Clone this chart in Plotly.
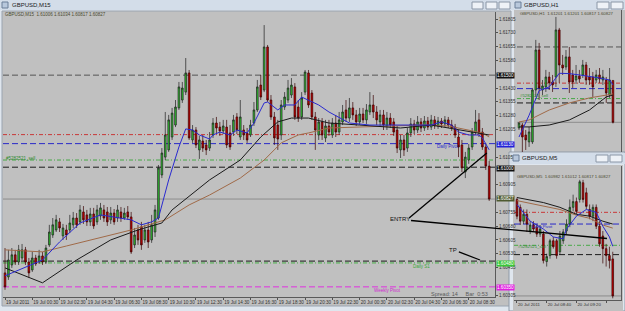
import plotly.graph_objects as go

W, H = 625, 311
def PX(x): return x / W
def PY(y): return 1 - y / H

# ---------------- GBPUSD M15 (main window) ----------------
m15_open = [1.60426,1.60404,1.60469,1.60524,1.60485,1.60507,1.60551,1.60485,1.60442,1.60507,
 1.60485,1.60518,1.60485,1.60578,1.60632,1.60659,1.60703,1.60627,1.60659,1.60659,
 1.60687,1.60724,1.60703,1.60757,1.60741,1.60703,1.60746,1.60703,1.60735,1.60768,
 1.60757,1.60714,1.60751,1.60724,1.60757,1.60724,1.60757,1.60730,1.60578,1.60659,
 1.60676,1.60605,1.60659,1.60605,1.60648,1.60724,1.60958,1.61055,1.61094,1.61164,
 1.61229,1.61322,1.61365,1.61408,1.61512,1.61148,1.61202,1.61094,1.61142,1.61121,
 1.61104,1.61175,1.61240,1.61218,1.61197,1.61218,1.61186,1.61191,1.61273,1.61164,
 1.61202,1.61186,1.61175,1.61240,1.61311,1.61446,1.61419,1.61653,1.61365,1.61273,
 1.61229,1.61175,1.61327,1.61365,1.61392,1.61436,1.61327,1.61273,1.61408,1.61512,
 1.61403,1.61273,1.61175,1.61246,1.61159,1.61224,1.61175,1.61240,1.61191,1.61246,
 1.61311,1.61267,1.61322,1.61284,1.61246,1.61289,1.61257,1.61300,1.61338,1.61300,
 1.61246,1.61284,1.61224,1.61267,1.61246,1.61202,1.61094,1.61148,1.61104,1.61186,
 1.61235,1.61202,1.61246,1.61213,1.61251,1.61218,1.61257,1.61224,1.61251,1.61235,
 1.61257,1.61229,1.61218,1.61164,1.61121,1.60974,1.61039,1.61110,1.61191,1.61257,
 1.61191,1.61110,1.61006]
m15_high = [1.60561,1.60551,1.60561,1.60551,1.60578,1.60583,1.60567,1.60507,1.60540,1.60524,
 1.60551,1.60540,1.60578,1.60687,1.60724,1.60741,1.60724,1.60692,1.60687,1.60741,
 1.60757,1.60751,1.60795,1.60789,1.60768,1.60779,1.60779,1.60795,1.60806,1.60795,
 1.60784,1.60784,1.60773,1.60795,1.60784,1.60779,1.60789,1.60757,1.60670,1.60687,
 1.60703,1.60687,1.60703,1.60741,1.60795,1.61012,1.61104,1.61300,1.61284,1.61322,
 1.61365,1.61463,1.61463,1.61593,1.61528,1.61229,1.61218,1.61170,1.61175,1.61148,
 1.61191,1.61267,1.61273,1.61246,1.61257,1.61257,1.61229,1.61284,1.61294,1.61365,
 1.61229,1.61213,1.61257,1.61354,1.61474,1.61501,1.61772,1.61664,1.61392,1.61300,
 1.61257,1.61365,1.61408,1.61474,1.61484,1.61457,1.61365,1.61408,1.61528,1.61528,
 1.61419,1.61300,1.61267,1.61267,1.61257,1.61257,1.61267,1.61284,1.61300,1.61338,
 1.61365,1.61376,1.61354,1.61311,1.61322,1.61322,1.61343,1.61408,1.61392,1.61332,
 1.61311,1.61311,1.61300,1.61294,1.61267,1.61224,1.61175,1.61175,1.61213,1.61267,
 1.61257,1.61278,1.61267,1.61278,1.61273,1.61284,1.61278,1.61273,1.61267,1.61278,
 1.61273,1.61257,1.61235,1.61202,1.61148,1.61083,1.61126,1.61213,1.61311,1.61294,
 1.61213,1.61132,1.61034]
m15_low = [1.60334,1.60388,1.60453,1.60469,1.60469,1.60496,1.60469,1.60399,1.60431,1.60464,
 1.60475,1.60469,1.60475,1.60567,1.60616,1.60648,1.60648,1.60605,1.60605,1.60643,
 1.60670,1.60670,1.60687,1.60692,1.60681,1.60681,1.60665,1.60687,1.60714,1.60703,
 1.60681,1.60692,1.60687,1.60703,1.60703,1.60714,1.60714,1.60529,1.60561,1.60578,
 1.60551,1.60589,1.60561,1.60589,1.60621,1.60714,1.60941,1.61039,1.61083,1.61148,
 1.61218,1.61311,1.61349,1.61392,1.61148,1.61132,1.61104,1.61045,1.61083,1.61066,
 1.61088,1.61159,1.61186,1.61170,1.61180,1.61104,1.61094,1.61170,1.61180,1.61148,
 1.61148,1.61132,1.61164,1.61224,1.61300,1.61365,1.61408,1.61354,1.61257,1.61121,
 1.61094,1.61148,1.61311,1.61349,1.61376,1.61257,1.61246,1.61257,1.61392,1.61322,
 1.61257,1.61094,1.61148,1.61148,1.61137,1.61170,1.61159,1.61164,1.61175,1.61229,
 1.61246,1.61246,1.61257,1.61224,1.61229,1.61240,1.61235,1.61284,1.61267,1.61229,
 1.61224,1.61202,1.61202,1.61213,1.61170,1.61077,1.61050,1.61061,1.61083,1.61164,
 1.61180,1.61186,1.61191,1.61197,1.61202,1.61202,1.61208,1.61208,1.61213,1.61218,
 1.61213,1.61197,1.61159,1.61055,1.60974,1.60941,1.61018,1.61094,1.61175,1.61164,
 1.61094,1.60985,1.60817]
m15_close = [1.60350,1.60496,1.60524,1.60485,1.60551,1.60551,1.60485,1.60426,1.60507,1.60475,
 1.60518,1.60485,1.60561,1.60648,1.60687,1.60714,1.60670,1.60670,1.60632,1.60697,
 1.60724,1.60687,1.60768,1.60714,1.60703,1.60746,1.60681,1.60768,1.60779,1.60724,
 1.60703,1.60751,1.60703,1.60768,1.60724,1.60751,1.60730,1.60540,1.60632,1.60605,
 1.60578,1.60659,1.60594,1.60687,1.60768,1.60996,1.61077,1.61175,1.61257,1.61294,
 1.61327,1.61436,1.61430,1.61512,1.61159,1.61202,1.61121,1.61148,1.61104,1.61094,
 1.61148,1.61240,1.61213,1.61197,1.61224,1.61121,1.61110,1.61257,1.61202,1.61273,
 1.61175,1.61148,1.61229,1.61311,1.61436,1.61381,1.61653,1.61365,1.61273,1.61159,
 1.61153,1.61338,1.61381,1.61430,1.61446,1.61273,1.61267,1.61376,1.61517,1.61338,
 1.61273,1.61202,1.61246,1.61175,1.61224,1.61191,1.61240,1.61191,1.61257,1.61300,
 1.61267,1.61322,1.61284,1.61246,1.61289,1.61257,1.61311,1.61338,1.61300,1.61257,
 1.61284,1.61229,1.61267,1.61229,1.61191,1.61104,1.61148,1.61094,1.61186,1.61235,
 1.61202,1.61246,1.61213,1.61251,1.61218,1.61257,1.61224,1.61251,1.61235,1.61257,
 1.61229,1.61213,1.61175,1.61110,1.60996,1.61055,1.61104,1.61191,1.61246,1.61186,
 1.61110,1.61006,1.60827]
m15_bar = list(range(len(m15_open)))

# moving averages (bar index, price)
m15_fast_bar = [0,11,16,22,28,37,40,43,45,48,51,53,55,57,60,61,63,66,68,71,73,76,77,80,82,85,87,89,92,95,101,107,116,125,128,131,133,136,139,140,142]
m15_fast = [1.60410,1.60496,1.60594,1.60697,1.60741,1.60714,1.60687,1.60703,1.60724,1.60931,1.61110,1.61208,1.61202,1.61175,1.61153,1.61175,1.61191,1.61175,1.61202,1.61186,1.61240,1.61349,1.61354,1.61311,1.61338,1.61338,1.61381,1.61365,1.61338,1.61300,1.61240,1.61229,1.61229,1.61229,1.61246,1.61229,1.61191,1.61175,1.61175,1.61159,1.61094]
m15_slow_bar = [0,11,18,28,37,47,54,60,69,76,81,86,89,95,110,122,130,136,140,142]
m15_slow = [1.60551,1.60540,1.60572,1.60616,1.60659,1.60714,1.60795,1.60849,1.60941,1.61039,1.61132,1.61175,1.61186,1.61213,1.61224,1.61229,1.61224,1.61202,1.61186,1.61164]
m15_mid_bar = [0,11,21,31,39,46,49,60,69,75,80,84,89,95,104,116,125,133,142]
m15_mid = [1.60453,1.60372,1.60496,1.60605,1.60659,1.60697,1.60768,1.60931,1.61039,1.61164,1.61246,1.61267,1.61267,1.61240,1.61229,1.61213,1.61229,1.61202,1.61175]

# price-scale labels that are visible (the others sit under the coloured level boxes)
main_price_ticks = [1.60305,1.60455,1.60530,1.60605,1.60680,1.60755,1.60905,
 1.61055,1.61205,1.61280,1.61355,1.61430,1.61580,1.61655,1.61730,1.61805]
main_time_bars = [0,8,16,24,32,40,48,56,64,72,80,88,96,104,112,120,128,136]
main_time_labels = ["19 Jul 2011","19 Jul 00:30","19 Jul 02:30","19 Jul 04:30","19 Jul 06:30",
 "19 Jul 08:30","19 Jul 10:30","19 Jul 12:30","19 Jul 14:30","19 Jul 16:30","19 Jul 18:30",
 "19 Jul 20:30","19 Jul 22:30","20 Jul 00:30","20 Jul 02:30","20 Jul 04:30","20 Jul 06:30","20 Jul 08:30"]

# horizontal levels (prices)
weekly_r_level = 1.61500
red_level = 1.61177
daily_pivot = 1.61128
sell_order = 1.61039
round_level = 1.61000
black_low_level = 1.60490
daily_s1 = 1.60480
weekly_pivot = 1.60350
bid = 1.60827

# ---------------- GBPUSD H1 ----------------
h1_open = [1.60777,1.60803,1.60714,1.60652,1.60652,1.61116,1.61473,1.61116,1.61143,1.61232,
 1.61187,1.61232,1.61652,1.61339,1.61321,1.61411,1.61250,1.61205,1.61241,1.61250,
 1.61339,1.61232,1.61232,1.61205,1.61250,1.61205,1.61205,1.61071,1.61201]
h1_high = [1.60830,1.60821,1.60759,1.60786,1.61134,1.61563,1.61536,1.61205,1.61295,1.61277,
 1.61250,1.61768,1.61670,1.61429,1.61473,1.61500,1.61295,1.61339,1.61295,1.61384,
 1.61366,1.61312,1.61277,1.61295,1.61312,1.61295,1.61232,1.61312,1.61201]
h1_low = [1.60759,1.60562,1.60580,1.60607,1.60634,1.61054,1.61027,1.61071,1.61098,1.61116,
 1.61098,1.61143,1.61179,1.61250,1.61295,1.61089,1.61134,1.61170,1.61179,1.61223,
 1.61161,1.61161,1.61054,1.61179,1.61179,1.61161,1.61000,1.61045,1.60817]
h1_close = [1.60821,1.60696,1.60670,1.60741,1.61116,1.61473,1.61134,1.61152,1.61232,1.61179,
 1.61161,1.61652,1.61339,1.61312,1.61411,1.61187,1.61187,1.61241,1.61214,1.61339,
 1.61205,1.61205,1.61143,1.61250,1.61214,1.61232,1.61089,1.61205,1.60827]
h1_bar = list(range(len(h1_open)))
h1_fast_bar = [0,3,6,9,12,15,18,21,24,27,28]
h1_fast = [1.60696,1.60890,1.61110,1.61143,1.61265,1.61262,1.61250,1.61238,1.61223,1.61205,1.61161]
h1_slow_bar = [0,3,9,15,21,26,28]
h1_slow = [1.60830,1.60848,1.60937,1.61000,1.61045,1.61071,1.61080]
h1_mid_bar = [0,3,9,15,21,26,28]
h1_mid = [1.60786,1.60786,1.60803,1.60848,1.60937,1.61054,1.61071]

# ---------------- GBPUSD M5 ----------------
m5_open = [1.61231,1.61198,1.61140,1.61169,1.61099,1.61124,1.61115,1.61086,1.61086,1.60971,
 1.60996,1.61058,1.61058,1.61012,1.61058,1.61099,1.61128,1.61198,1.61222,1.61231,
 1.61301,1.61259,1.61189,1.61161,1.61198,1.61119,1.61078,1.61025,1.60996,1.60982]
m5_high = [1.61239,1.61210,1.61189,1.61189,1.61140,1.61140,1.61128,1.61124,1.61099,1.61004,
 1.61066,1.61074,1.61066,1.61099,1.61107,1.61148,1.61231,1.61251,1.61239,1.61313,
 1.61313,1.61280,1.61210,1.61210,1.61210,1.61140,1.61099,1.61045,1.61033,1.61012]
m5_low = [1.61148,1.61124,1.61128,1.61095,1.61086,1.61095,1.61074,1.61074,1.60963,1.60950,
 1.60983,1.61025,1.60983,1.61000,1.61045,1.61086,1.61115,1.61181,1.61169,1.61218,
 1.61218,1.61189,1.61148,1.61140,1.61107,1.61033,1.60963,1.60950,1.60942,1.60817]
m5_close = [1.61161,1.61140,1.61169,1.61128,1.61124,1.61107,1.61086,1.61107,1.60975,1.60992,
 1.61058,1.61033,1.60996,1.61078,1.61095,1.61128,1.61198,1.61222,1.61181,1.61305,
 1.61231,1.61202,1.61161,1.61198,1.61119,1.61045,1.61025,1.60996,1.60975,1.60827]
m5_bar = list(range(len(m5_open)))
m5_fast_bar = [0,4,8,11,14,15,18,21,24,26,28,29]
m5_fast = [1.61210,1.61140,1.61107,1.61074,1.61066,1.61107,1.61161,1.61189,1.61177,1.61119,1.61074,1.61035]
m5_slow_bar = [0,8,13,18,22,26,29]
m5_slow = [1.61226,1.61202,1.61189,1.61165,1.61152,1.61124,1.61111]
m5_mid_bar = [0,8,13,18,22,26,29]
m5_mid = [1.61239,1.61218,1.61198,1.61169,1.61161,1.61140,1.61128]
m5_time_bars = [0,9,18,27]
m5_time_labels = ["20 Jul 2011","20 Jul 08:40","20 Jul 09:20","20 Jul 10:00"]

# ---------------- styling ----------------
FONT = "Liberation Sans"
CHART_BG = "#c0c0c0"
FRAME = "#dfe6ee"
TITLEBAR = "#d3dde9"
UP_FILL, DN_FILL = "#2fc22f", "#c40000"
WICK = "#202020"
BLUE_MA, BROWN_MA, BLACK_MA = "#2a2ad0", "#a06a48", "#1a1a1a"

fig = go.Figure()

def add_candles(xs, o, h, l, c, xa, ya):
    fig.add_trace(go.Candlestick(
        x=xs, open=o, high=h, low=l, close=c, xaxis=xa, yaxis=ya,
        increasing=dict(fillcolor=UP_FILL, line=dict(color=WICK, width=0.7)),
        decreasing=dict(fillcolor=DN_FILL, line=dict(color="#3a0000", width=0.7)),
        whiskerwidth=0, showlegend=False, hoverinfo="skip"))

def add_ma(xs, ys, color, xa, ya):
    fig.add_trace(go.Scatter(x=xs, y=ys, mode="lines", line=dict(color=color, width=1),
                             xaxis=xa, yaxis=ya, showlegend=False, hoverinfo="skip"))

add_candles(m15_bar, m15_open, m15_high, m15_low, m15_close, "x", "y")
add_ma(m15_slow_bar, m15_slow, BROWN_MA, "x", "y")
add_ma(m15_mid_bar, m15_mid, BLACK_MA, "x", "y")
add_ma(m15_fast_bar, m15_fast, BLUE_MA, "x", "y")

add_candles(h1_bar, h1_open, h1_high, h1_low, h1_close, "x2", "y2")
add_ma(h1_slow_bar, h1_slow, BROWN_MA, "x2", "y2")
add_ma(h1_mid_bar, h1_mid, BLACK_MA, "x2", "y2")
add_ma(h1_fast_bar, h1_fast, BLUE_MA, "x2", "y2")

add_candles(m5_bar, m5_open, m5_high, m5_low, m5_close, "x3", "y3")
add_ma(m5_slow_bar, m5_slow, BROWN_MA, "x3", "y3")
add_ma(m5_mid_bar, m5_mid, BLACK_MA, "x3", "y3")
add_ma(m5_fast_bar, m5_fast, BLUE_MA, "x3", "y3")

shapes = []
def prect(x0, y0, x1, y1, fill, line=None, layer="below"):
    shapes.append(dict(type="rect", xref="paper", yref="paper", x0=PX(x0), x1=PX(x1),
                       y0=PY(y1), y1=PY(y0), fillcolor=fill, layer=layer,
                       line=dict(width=0 if line is None else 1, color=line or fill)))

# window chrome
prect(0, 0, 512, 10, TITLEBAR)
prect(2, 11, 511, 306, CHART_BG, "#9aa4b0")
prect(512, 0, 625, 10, TITLEBAR)
prect(514, 10, 625, 153, CHART_BG)
prect(509, 152, 625, 311, FRAME, "#8f9aa8")
prect(510, 153, 625, 164, TITLEBAR)
prect(513, 165, 623, 311, CHART_BG)
for bx in [(472, 483), (486, 497), (499, 510), (597, 609), (611, 623)]:
    prect(bx[0], 2, bx[1], 9, "#eef2f7", "#8a96a6", layer="above")
for bx in [(596, 608), (610, 622)]:
    prect(bx[0], 155, bx[1], 162, "#eef2f7", "#8a96a6", layer="above")
prect(2, 2, 8, 8, "#b8c8dc", "#6a7e98", layer="above")
prect(515, 2, 521, 8, "#b8c8dc", "#6a7e98", layer="above")
prect(513, 155, 519, 161, "#b8c8dc", "#6a7e98", layer="above")

def hline(price, color, dash, xa, ya, width=1):
    shapes.append(dict(type="line", xref=xa + " domain", yref=ya, x0=0, x1=1, y0=price, y1=price,
                       line=dict(color=color, width=width, dash=dash), layer="below"))

DASH = "6px,3px"
DASHDOT = "4px,2px,1px,2px"
for xa, ya in [("x", "y"), ("x2", "y2"), ("x3", "y3")]:
    hline(weekly_r_level, "#555555", DASH, xa, ya)
    hline(red_level, "#c83838", DASHDOT, xa, ya)
    hline(daily_pivot, "#2828c8", DASH, xa, ya)
    hline(sell_order, "#48a848", DASHDOT, xa, ya)
    hline(round_level, "#1a1a1a", DASH, xa, ya)
    hline(bid, "#8c8c8c", "solid", xa, ya)
hline(black_low_level, "#1a1a1a", DASH, "x", "y")
hline(daily_s1, "#48b048", DASHDOT, "x", "y")
hline(weekly_pivot, "#e030e0", DASH, "x", "y")

# hand-drawn trade lines
shapes.append(dict(type="line", xref="x", yref="y", x0=118.5, y0=1.60724, x1=141.3, y1=1.61077,
                   line=dict(color="black", width=1.3), layer="above"))
shapes.append(dict(type="line", xref="x", yref="y", x0=133.1, y0=1.60540, x1=139.3, y1=1.60496,
                   line=dict(color="black", width=1.3), layer="above"))
shapes.append(dict(type="line", xref="paper", yref="paper", x0=PX(411), y0=PY(220.5),
                   x1=PX(607), y1=PY(238.5), line=dict(color="black", width=1.3), layer="above"))

ann = []
def text(x, y, s, size=4.6, color="#303030", anchor="left", bg=None):
    ann.append(dict(x=PX(x), y=PY(y), xref="paper", yref="paper", text=s, showarrow=False,
                    xanchor=anchor, yanchor="middle", bgcolor=bg, borderpad=0,
                    font=dict(family=FONT, size=size, color=color)))

text(11, 5, "GBPUSD,M15", 6, "#1a1a1a")
text(523, 5, "GBPUSD,H1", 6, "#1a1a1a")
text(521, 158, "GBPUSD,M5", 6, "#1a1a1a")
text(4, 14.5, "GBPUSD,M15  1.61006 1.61034 1.60817 1.60827", 4.5, "#4a4a30")
text(519, 14, "GBPUSD,H1  1.61201 1.61201 1.60817 1.60827", 4.3, "#4a4a30")
text(516, 176, "GBPUSD,M5  1.60982 1.61012 1.60817 1.60827", 4.3, "#4a4a30")
text(5, 158.5, "#5282521_sell", 4.5, "#2e8a2e")
text(519, 95, "#5282521_sell", 4.3, "#2e8a2e")
text(517, 246, "#5282521_sell", 4.3, "#2e8a2e")
text(436, 147, "Daily Pivot", 4.5, "#2828c8")
text(531, 226, "Daily Pivot", 4.3, "#2828c8")
text(412, 266.5, "Daily S1", 4.5, "#3aa83a")
text(373, 290.5, "Weekly Pivot", 4.5, "#d028d0")
text(389, 219, "ENTRY", 6, "#101010")
text(448, 250, "TP", 6, "#101010")
text(430, 294, "Spread: 14     Bar  0:53", 5.5, "#5a5a5a")

# price-axis boxes
def pbox(y, s, bg, fg="white"):
    text(496, y, s, 4.6, fg, "left", bg)
pbox(75.3, "1.61500", "#101010")
pbox(144.2, "1.61130", "#2020d8")
pbox(168.3, "1.61000", "#101010")
pbox(198.3, "1.60827", "#4e5a30")
pbox(263.3, "1.60480", "#38c838")
pbox(287, "1.60350", "#e020e0")

axis_font = dict(family=FONT, size=4.6, color="#303030")
fig.update_layout(
    width=W, height=H, margin=dict(l=0, r=0, t=0, b=0),
    paper_bgcolor=FRAME, plot_bgcolor=CHART_BG, showlegend=False,
    shapes=shapes, annotations=ann,
    xaxis=dict(domain=[PX(3), PX(495)], range=[-0.59, 143.7], anchor="y",
               tickvals=main_time_bars, ticktext=main_time_labels, ticks="outside", ticklen=2,
               tickcolor="#505050", tickfont=axis_font, ticklabelposition="outside right",
               tickangle=0, showgrid=False, zeroline=False, showline=True, linecolor="#5a5a5a",
               linewidth=1, rangeslider=dict(visible=False), fixedrange=True),
    yaxis=dict(domain=[PY(297), PY(12)], range=[1.60295, 1.61843], anchor="x", side="right",
               tickvals=main_price_ticks, ticktext=[f"{v:.5f}" for v in main_price_ticks],
               ticks="outside", ticklen=2, tickcolor="#505050", tickfont=axis_font,
               showgrid=False, zeroline=False, showline=True, linecolor="#5a5a5a", linewidth=1),
    xaxis2=dict(domain=[PX(517), PX(621)], range=[-0.6, 30.4], anchor="y2", visible=False,
                rangeslider=dict(visible=False)),
    yaxis2=dict(domain=[PY(152), PY(10)], range=[1.60562, 1.61830], anchor="x2", side="right",
                showticklabels=False, ticks="", showgrid=False, zeroline=False,
                showline=True, linecolor="#5a5a5a", linewidth=1),
    xaxis3=dict(domain=[PX(514), PX(621)], range=[-0.9, 31.5], anchor="y3",
                tickvals=m5_time_bars, ticktext=m5_time_labels, ticks="outside", ticklen=2,
                tickcolor="#505050", tickfont=dict(family=FONT, size=4.3, color="#303030"),
                ticklabelposition="outside right", tickangle=0, showgrid=False, zeroline=False,
                showline=True, linecolor="#5a5a5a", linewidth=1, rangeslider=dict(visible=False)),
    yaxis3=dict(domain=[PY(300), PY(166)], range=[1.60810, 1.61371], anchor="x3", side="right",
                showticklabels=False, ticks="", showgrid=False, zeroline=False,
                showline=True, linecolor="#5a5a5a", linewidth=1),
)

fig.write_html("out.html")
